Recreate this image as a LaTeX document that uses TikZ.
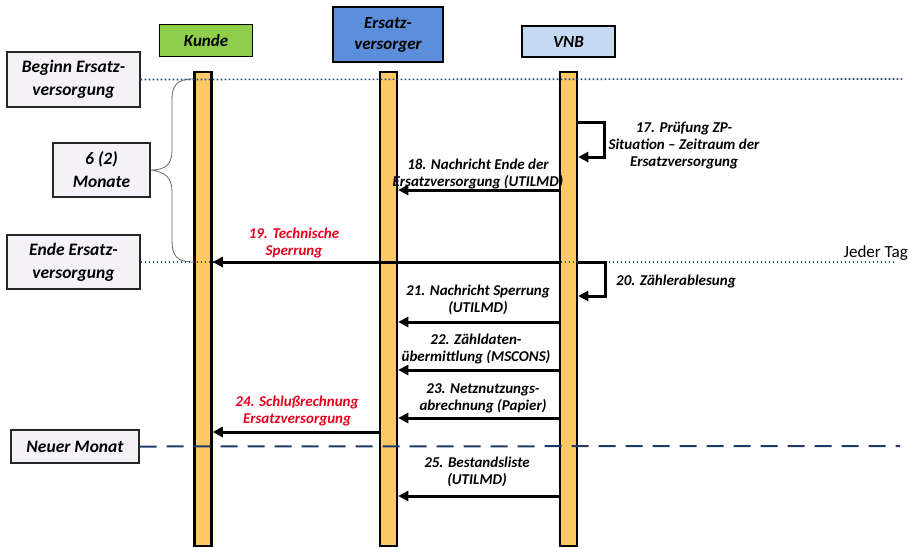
\documentclass[tikz,border=0pt]{standalone}
\usepackage{fontspec}
\setmainfont{Carlito}
\usetikzlibrary{arrows.meta,calc}
\definecolor{kgreen}{HTML}{8FCE4A}
\definecolor{evblue}{HTML}{5B8FDB}
\definecolor{vnblue}{HTML}{C5D9F1}
\definecolor{barfill}{HTML}{FFC866}
\definecolor{boxfill}{HTML}{F5F2F7}
\definecolor{lineblue}{HTML}{2E4C7A}
\definecolor{dashblue}{HTML}{1F3A64}
\definecolor{msgred}{HTML}{E5001E}
\begin{document}
\begin{tikzpicture}[x=1pt,y=-1pt,
 hdr/.style={draw=black,line width=1.6pt,inner sep=0,align=center,font=\fontsize{17}{21}\selectfont\bfseries\itshape},
 bar/.style={draw=black,line width=2.5pt,fill=barfill,minimum width=17pt,minimum height=474pt,inner sep=0},
 side/.style={draw=black!85,line width=1.4pt,fill=boxfill,align=center,inner sep=0,font=\fontsize{17.5}{23}\selectfont\bfseries\itshape},
 msg/.style={line width=3pt,-{Triangle[length=10pt,width=10pt]}},
 lab/.style={align=center,inner sep=0,font=\fontsize{15}{17}\selectfont\bfseries\itshape},
 dotline/.style={lineblue,line width=1.6pt,dash pattern=on 1.6pt off 2.4pt},
]
\useasboundingbox (0,0) rectangle (909,547);

% headers
\node[hdr,fill=kgreen,minimum width=93pt,minimum height=32pt] (kunde) at (206,40.5) {Kunde};
\node[hdr,fill=evblue,minimum width=110pt,minimum height=55pt] (ev) at (388,34.5) {Ersatz-\\versorger};
\node[hdr,fill=vnblue,minimum width=93pt,minimum height=31pt] (vnb) at (568.5,41.5) {VNB};

% lifelines
\node[bar] (kbar) at (203,309) {};
\node[bar] (evbar) at (388.5,309) {};
\node[bar] (vbar) at (568.5,309) {};

% side boxes
\node[side,minimum width=133pt,minimum height=55pt] (beginn) at (73.5,79.5) {Beginn Ersatz-\\versorgung};
\node[side,minimum width=97pt,minimum height=54pt] (monate) at (101.5,170) {6 (2)\\Monate};
\node[side,minimum width=133pt,minimum height=54pt] (ende) at (73.5,262) {Ende Ersatz-\\versorgung};
\node[side,minimum width=128pt,minimum height=33pt] (neu) at (75,446.5) {Neuer Monat};

% brace
\draw[black!60,line width=0.8pt] (kbar.west |- 0,79) .. controls (176,79) and (172,86) .. (172,100) -- (172,150)
  .. controls (172,164) and (166,170) .. (monate.east)
  .. controls (166,172) and (172,178) .. (172,192) -- (172,240)
  .. controls (172,255) and (176,262) .. (kbar.west |- 0,262);

% horizontal markers
\coordinate (bend) at (902,79);
\coordinate (eend) at (895,262);
\coordinate (nend) at (900,446);
\draw[dotline] (beginn.east) -- (bend);
\draw[dotline] (ende.east) -- (eend);
\node[anchor=base east,inner sep=0,font=\fontsize{17}{20}\selectfont] (tag) at (908,257) {Jeder Tag};

% 17
\draw[msg] (vbar.east |- 0,122) -| (604,157) -- (vbar.east |- 0,157);
\node[lab] (l17) at (684,146) {17. Prüfung ZP-\\Situation -- Zeitraum der\\Ersatzversorgung};

% 18
\draw[msg] (vbar.west |- 0,190) -- (evbar.east |- 0,190);
\node[lab] (l18) at (478,173.5) {18. Nachricht Ende der\\Ersatzversorgung (UTILMD)};

% 19
\draw[msg] (vbar.west |- 0,262) -- (kbar.east |- 0,262);
\node[lab,text=msgred] (l19) at (294,243) {19. Technische\\Sperrung};

% 20
\draw[msg] (vbar.east |- 0,262) -| (605,296) -- (vbar.east |- 0,296);
\node[lab,anchor=west] (l20) at (616,281) {20. Zählerablesung};

% 21
\draw[msg] (vbar.west |- 0,322) -- (evbar.east |- 0,322);
\node[lab] (l21) at (478,300) {21. Nachricht Sperrung\\(UTILMD)};

% 22
\draw[msg] (vbar.west |- 0,370) -- (evbar.east |- 0,370);
\node[lab] (l22) at (476,349) {22. Zähldaten-\\übermittlung (MSCONS)};

% 23
\draw[msg] (vbar.west |- 0,418) -- (evbar.east |- 0,418);
\node[lab] (l23) at (483,398.5) {23. Netznutzungs-\\abrechnung (Papier)};

% 24
\draw[msg] (evbar.west |- 0,432) -- (kbar.east |- 0,432);
\node[lab,text=msgred] (l24) at (297,411) {24. Schlußrechnung\\Ersatzversorgung};

% neuer monat
\draw[dashblue,line width=2pt,dash pattern=on 17pt off 10pt] (neu.east) -- (nend);

% 25
\draw[msg] (vbar.west |- 0,496) -- (evbar.east |- 0,496);
\node[lab] (l25) at (477,472) {25. Bestandsliste\\(UTILMD)};
\end{tikzpicture}
\end{document}
